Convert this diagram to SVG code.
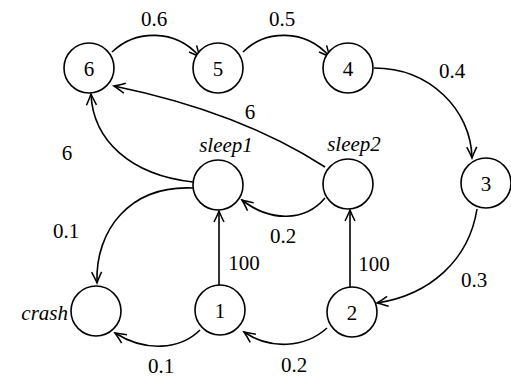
<svg xmlns="http://www.w3.org/2000/svg" width="511" height="378" viewBox="0 0 511 378">
<defs>
<marker id="ah" viewBox="-12 -7 14 14" refX="0" refY="0" markerWidth="14" markerHeight="14" markerUnits="userSpaceOnUse" orient="auto">
<path d="M-11,-5 Q-4,-1.5 0,0 Q-4,1.5 -11,5" fill="none" stroke="#000" stroke-width="1.5"/>
</marker>
<style>
.n{fill:#fff;stroke:#000;stroke-width:1.6}
.e{fill:none;stroke:#000;stroke-width:1.6;marker-end:url(#ah)}
text{font-family:"Liberation Serif","DejaVu Serif",serif;font-size:21px;fill:#000}
.c{text-anchor:middle}
.i{font-style:italic}
</style>
</defs>
<rect width="511" height="378" fill="#fff"/>
<g id="edges">
<path class="e" d="M112,52 C135,30 175,28 200,57"/>
<path class="e" d="M243,52 C265,30 305,28 330,57"/>
<path class="e" d="M374,68 C430,68 471,110 472,158"/>
<path class="e" d="M477,209 C469,260 430,295 377,303"/>
<path class="e" d="M327,328 C305,348 270,350 244,332"/>
<path class="e" d="M200,330 C180,350 145,352 115,333"/>
<path class="e" d="M219,285 L219,211"/>
<path class="e" d="M350,287 L350,210"/>
<path class="e" d="M325,198 C305,222 270,222 242,200"/>
<path class="e" d="M193,188 C130,185 95,230 97,283"/>
<path class="e" d="M193,182 C130,175 93,140 91,94"/>
<path class="e" d="M325,167 Q240,112 114,86"/>
</g>
<g id="edge-labels">
<text class="c" x="154" y="26">0.6</text>
<text class="c" x="282" y="26">0.5</text>
<text class="c" x="452" y="78">0.4</text>
<text class="c" x="250" y="119">6</text>
<text class="c" x="67" y="160">6</text>
<text class="c" x="66" y="238">0.1</text>
<text class="c" x="244" y="270">100</text>
<text class="c" x="283" y="243">0.2</text>
<text class="c" x="374" y="271">100</text>
<text class="c" x="474" y="287">0.3</text>
<text class="c" x="161" y="373">0.1</text>
<text class="c" x="294" y="372">0.2</text>
</g>
<g id="n6"><circle class="n" cx="89" cy="68" r="25"/><text class="c" x="89" y="76">6</text></g>
<g id="n5"><circle class="n" cx="218" cy="68" r="25"/><text class="c" x="218" y="76">5</text></g>
<g id="n4"><circle class="n" cx="348" cy="68" r="25"/><text class="c" x="348" y="76">4</text></g>
<g id="n3"><circle class="n" cx="486" cy="183" r="25"/><text class="c" x="486" y="191">3</text></g>
<g id="sleep1"><circle class="n" cx="218" cy="185" r="25"/><text class="c i" x="226" y="152">sleep1</text></g>
<g id="sleep2"><circle class="n" cx="348" cy="184" r="25"/><text class="c i" x="354" y="151">sleep2</text></g>
<g id="crash"><circle class="n" cx="96" cy="311" r="25"/><text class="i" x="68" y="320" text-anchor="end">crash</text></g>
<g id="n1"><circle class="n" cx="220" cy="310" r="25"/><text class="c" x="220" y="318">1</text></g>
<g id="n2"><circle class="n" cx="352" cy="312" r="25"/><text class="c" x="352" y="320">2</text></g>
</svg>
